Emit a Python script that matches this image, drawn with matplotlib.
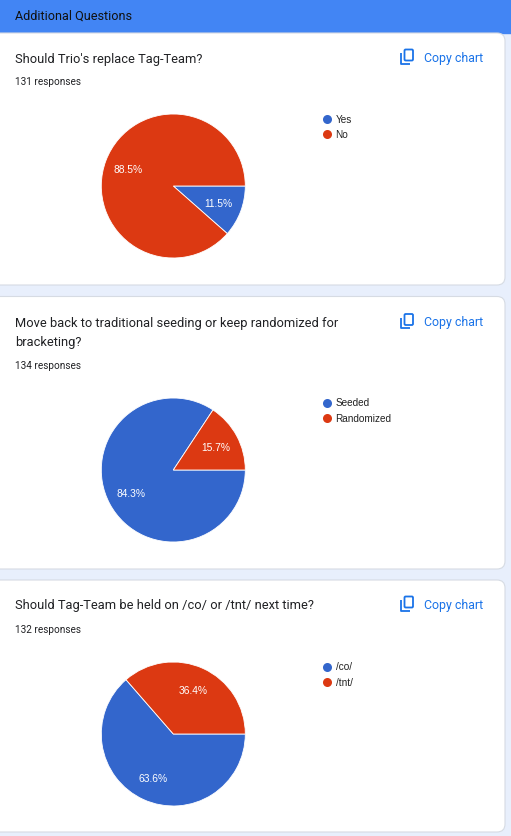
import matplotlib
matplotlib.use("Agg")
import matplotlib.pyplot as plt
from matplotlib.patches import FancyBboxPatch, Rectangle

# ---- data ----
header_title = "Additional Questions"
questions = [
    "Should Trio's replace Tag-Team?",
    "Move back to traditional seeding or keep randomized for\nbracketing?",
    "Should Tag-Team be held on /co/ or /tnt/ next time?",
]
responses = [131, 134, 132]
q1_labels = ["Yes", "No"]
q1_values = [11.5, 88.5]
q2_labels = ["Seeded", "Randomized"]
q2_values = [84.3, 15.7]
q3_labels = ["/co/", "/tnt/"]
q3_values = [63.6, 36.4]
slice_colors = ["#3366cc", "#dc3912"]

W, H = 511, 837
fig = plt.figure(figsize=(W / 100, H / 100), dpi=100)
fig.patch.set_facecolor("#e8effc")

bg = fig.add_axes([0, 0, 1, 1])
bg.set_xlim(0, W)
bg.set_ylim(H, 0)
bg.axis("off")

# header
bg.add_patch(Rectangle((0, 0), W, 33.5, color="#4285f4", zorder=1))
bg.text(15, 16, header_title, fontsize=9.1, family="Roboto", color="#111111",
        va="center", ha="left", zorder=3)

cards = [(34, 286), (297.5, 570), (581, 833)]
pie_centers_y = [187, 471, 735]
title_y = [59, 323.5, 606]
resp_y = [81.5, 366, 630]
legend_y = [120, 403.5, 667.5]
all_labels = [q1_labels, q2_labels, q3_labels]
all_values = [q1_values, q2_values, q3_values]

R = 72
CX = 173.3

for i in range(3):
    top, bot = cards[i]
    bg.add_patch(FancyBboxPatch((-20, top), 525, bot - top,
                                boxstyle="round,pad=0,rounding_size=8",
                                facecolor="white", edgecolor="#d6dbe3",
                                linewidth=0.8, zorder=2))
    lines = questions[i].split("\n")
    for k, ln in enumerate(lines):
        bg.text(15, title_y[i] + k * 19, ln, fontsize=9.3, family="Roboto",
                color="#202124", va="center", ha="left", zorder=3)
    bg.text(15, resp_y[i], f"{responses[i]} responses", fontsize=7.2,
            family="Roboto", color="#202124", va="center", ha="left", zorder=3)
    # copy chart
    cy = title_y[i] - 1
    bg.add_patch(FancyBboxPatch((404.5, cy - 7.5), 8.5, 11,
                                boxstyle="round,pad=0,rounding_size=1.2",
                                facecolor="none", edgecolor="#1a73e8",
                                linewidth=1.3, zorder=3))
    bg.plot([401, 401, 410], [cy - 4, cy + 6.5, cy + 6.5], color="#1a73e8",
            linewidth=1.3, solid_capstyle="butt", zorder=3)
    bg.text(424, cy, "Copy chart", fontsize=8.9, family="Roboto",
            color="#1a73e8", va="center", ha="left", zorder=3)

    # pie
    cyp = pie_centers_y[i]
    ax = fig.add_axes([(CX - R) / W, 1 - (cyp + R) / H, 2 * R / W, 2 * R / H])
    ax.pie(all_values[i], colors=slice_colors, startangle=0, counterclock=False,
           labels=None, autopct="%1.1f%%", pctdistance=0.67,
           wedgeprops=dict(edgecolor="white", linewidth=0.6),
           textprops=dict(color="white", fontsize=7.4, family="Liberation Sans"))
    ax.set_xlim(-1, 1)
    ax.set_ylim(-1, 1)
    ax.set_aspect("equal")
    ax.axis("off")

    # legend
    for j, lab in enumerate(all_labels[i]):
        yy = legend_y[i] + j * 15
        bg.scatter([326.7], [yy], s=6.5 ** 2, color=slice_colors[j], zorder=3,
                   linewidths=0)
        bg.text(335.5, yy, lab, fontsize=7.2, family="Liberation Sans",
                color="#222222", va="center", ha="left", zorder=3)

fig.savefig("out.png", dpi=100, facecolor=fig.get_facecolor())
